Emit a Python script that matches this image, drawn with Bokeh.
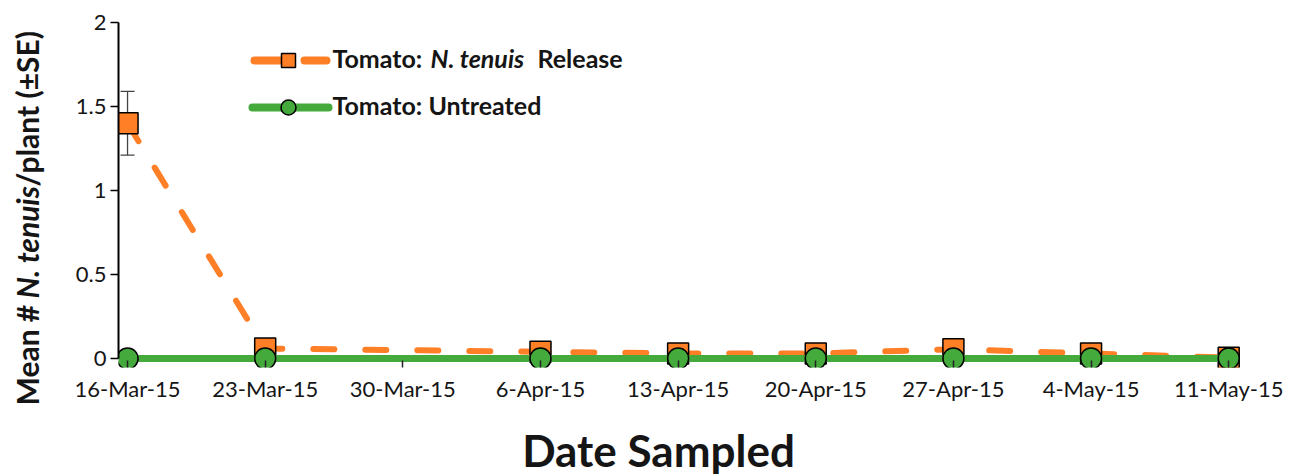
import math
import pandas as pd
from bokeh.plotting import figure
from bokeh.models import Range1d, FixedTicker, Whisker, TeeHead, ColumnDataSource, Label
from bokeh.embed import file_html
from bokeh.resources import INLINE

# ---------------- data ----------------
sample_dates = ["2015-03-16", "2015-03-23", "2015-04-06", "2015-04-13",
                "2015-04-20", "2015-04-27", "2015-05-04", "2015-05-11"]
release_mean = [1.40, 0.06, 0.04, 0.03, 0.03, 0.055, 0.03, 0.005]
release_se = [0.19, 0.01, 0.01, 0.01, 0.01, 0.015, 0.01, 0.005]
untreated_mean = [0, 0, 0, 0, 0, 0, 0, 0]
tick_dates = ["2015-03-16", "2015-03-23", "2015-03-30", "2015-04-06", "2015-04-13",
              "2015-04-20", "2015-04-27", "2015-05-04", "2015-05-11"]
tick_labels = ["16-Mar-15", "23-Mar-15", "30-Mar-15", "6-Apr-15", "13-Apr-15",
               "20-Apr-15", "27-Apr-15", "4-May-15", "11-May-15"]
y_ticks = [0, 0.5, 1, 1.5, 2]
y_tick_labels = ["0", "0.5", "1", "1.5", "2"]
series_names = ["Tomato:", "N. tenuis", "Release", "Tomato: Untreated"]
y_title = ["Mean #", "N. tenuis", "/plant (±SE)"]
x_title = "Date Sampled"

# ---------------- derived ----------------
origin = pd.Timestamp(tick_dates[0])
x = [float((pd.Timestamp(d) - origin).days) for d in sample_dates]
xt = [float((pd.Timestamp(d) - origin).days) for d in tick_dates]

ORANGE = "#FF7F27"
GREEN = "#44AA3C"
TXT = "#151515"
FONT = "Lato"

FW, FH = 1122, 345
p = figure(frame_width=FW, frame_height=FH,
           x_range=Range1d(xt[0] - 0.46, xt[-1] + 0.6),
           y_range=Range1d(-9 / 168, 2),
           output_backend="svg", toolbar_location=None,
           min_border_left=118, min_border_right=56,
           min_border_top=22, min_border_bottom=108)
p.xgrid.visible = False
p.ygrid.visible = False
p.outline_line_color = None
p.background_fill_color = "white"
p.border_fill_color = "white"

# pixel helper ranges for legend swatches
p.extra_x_ranges = {"px": Range1d(0, FW)}
p.extra_y_ranges = {"px": Range1d(FH, 0)}

# y axis
ya = p.yaxis[0]
ya.ticker = FixedTicker(ticks=y_ticks)
ya.major_label_overrides = {float(t): l for t, l in zip(y_ticks, y_tick_labels)}
ya.bounds = (0, 2)
ya.axis_line_color = "black"
ya.axis_line_width = 2
ya.major_tick_line_color = "black"
ya.major_tick_line_width = 1.5
ya.major_tick_in = 0
ya.major_tick_out = 8
ya.minor_tick_line_color = None
ya.major_label_text_font = FONT
ya.major_label_text_font_size = "22px"
ya.major_label_text_color = TXT
ya.major_label_standoff = 4

# x axis (at frame bottom, ticks reach up towards the zero line)
xa = p.xaxis[0]
xa.ticker = FixedTicker(ticks=xt)
xa.major_label_overrides = {t: l for t, l in zip(xt, tick_labels)}
xa.axis_line_color = None
xa.major_tick_line_color = "#222222"
xa.major_tick_line_width = 1.5
xa.major_tick_in = 7
xa.major_tick_out = 0
xa.minor_tick_line_color = None
xa.major_label_text_font = FONT
xa.major_label_text_font_size = "22px"
xa.major_label_text_color = TXT
xa.major_label_standoff = 7

# error bars
src = ColumnDataSource(dict(
    x=x,
    upper=[m + s for m, s in zip(release_mean, release_se)],
    lower=[m - s for m, s in zip(release_mean, release_se)],
))
wh = Whisker(base="x", upper="upper", lower="lower", source=src, dimension="height",
             line_color="#444444", line_width=1.3, level="underlay",
             upper_head=TeeHead(size=14, line_color="#444444", line_width=1.3),
             lower_head=TeeHead(size=14, line_color="#444444", line_width=1.3))
p.add_layout(wh)

# series
p.line(x, release_mean, line_color=ORANGE, line_width=6, line_dash="21 31", line_cap="round")
p.scatter(x, release_mean, marker="square", size=21, fill_color=ORANGE,
          line_color="black", line_width=1.5)
p.line(x, untreated_mean, line_color=GREEN, line_width=7)
p.scatter(x, untreated_mean, marker="circle", size=21, fill_color=GREEN,
          line_color="black", line_width=1.5)

# legend swatches (pixel space inside the frame)
kw = dict(x_range_name="px", y_range_name="px")
p.line([136, 208], [38, 38], line_color=ORANGE, line_width=8, line_dash="28 22",
       line_cap="round", **kw)
p.scatter([170], [38], marker="square", size=14, fill_color=ORANGE,
          line_color="black", line_width=1.5, **kw)
p.line([134, 210], [85, 85], line_color=GREEN, line_width=8, line_cap="round", **kw)
p.scatter([170], [85], marker="circle", size=15, fill_color=GREEN,
          line_color="black", line_width=1.5, **kw)


def lab(text, xx, yy, size, style="bold", align="left", angle=0.0, place="center"):
    lb = Label(x=xx, y=yy, x_units="canvas", y_units="canvas", text=text,
               text_font=FONT, text_font_size=size,
               text_font_style=style, text_color=TXT, text_align=align,
               text_baseline="alphabetic", angle=angle)
    if place == "center":
        p.add_layout(lb)
    else:
        p.add_layout(lb, place)


# legend texts
lab(series_names[0], 332, 57, "25px")
lab(series_names[1], 430, 57, "25px", "bold italic")
lab(series_names[2], 537, 57, "25px")
lab(series_names[3], 332, 104, "25px")

# y title (rotated, pieces) in side panels so they are not clipped
lab(y_title[0], 26, 405, "30px", angle=math.pi / 2, place="left")
lab(y_title[1], 26, 298, "30px", "bold italic", angle=math.pi / 2, place="right")
lab(y_title[2], 26, 186, "30px", angle=math.pi / 2, place="left")

# x title in the bottom panel
lab(x_title, 658, 449, "44px", align="center", place="below")

open("out.html", "w").write(file_html(p, INLINE))
